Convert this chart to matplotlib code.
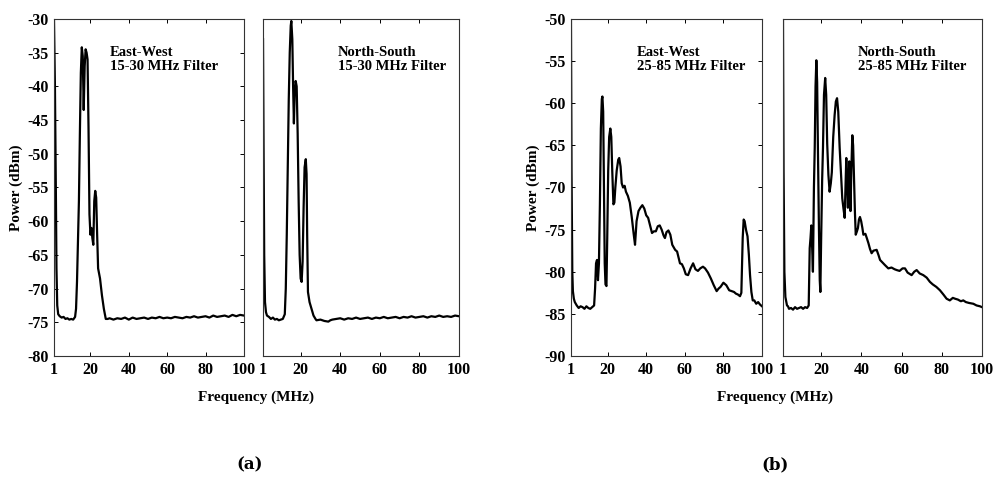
import matplotlib
matplotlib.use("Agg")
import matplotlib.pyplot as plt

plt.rcParams['font.family'] = ['Liberation Serif', 'DejaVu Serif']
plt.rcParams['font.weight'] = 'bold'
plt.rcParams['axes.unicode_minus'] = False

# ---- (a) 15-30 MHz filter ----
ew_a_f = [1, 1.5, 2, 2.3, 2.7, 3.2, 4, 5, 6, 7, 8, 9, 10, 11, 12, 12.5, 13, 13.5, 14,
          14.5, 15, 15.5, 16, 16.5, 17, 17.5, 18, 18.5, 19, 19.5, 20, 20.5, 21, 21.5,
          22, 22.5, 23, 23.5, 24, 25, 26, 27, 28, 29, 30, 32, 34, 36, 38, 40, 42, 44,
          46, 48, 50, 52, 54, 56, 58, 60, 62, 64, 66, 68, 70, 72, 74, 76, 78, 80, 82,
          84, 86, 88, 90, 92, 94, 96, 98, 100]
ew_a_p = [-30, -40, -56, -67, -72.5, -73.8, -74.1, -74.3, -74.2, -74.5, -74.4, -74.6,
          -74.5, -74.6, -74.2, -73, -69, -63, -57, -47, -38, -34.2, -35.5, -43.5, -37,
          -34.5, -35, -36, -46, -59, -62, -61, -62.5, -63.5, -57, -55.5, -56.5, -62, -67,
          -68.5, -71, -73, -74.5, -74.5, -74.4, -74.6, -74.4, -74.5, -74.3, -74.6, -74.3,
          -74.5, -74.4, -74.3, -74.5, -74.3, -74.4, -74.2, -74.4, -74.3, -74.4, -74.2,
          -74.3, -74.4, -74.2, -74.3, -74.1, -74.3, -74.2, -74.1, -74.3, -74.0, -74.2,
          -74.1, -74.0, -74.2, -73.9, -74.1, -73.9, -74.0]

ns_a_f = [1, 1.3, 1.6, 2, 2.5, 3, 4, 5, 6, 7, 8, 9, 10, 11, 12, 12.5, 13, 13.5, 14,
          14.5, 15, 15.3, 15.8, 16.2, 16.6, 17, 17.5, 18, 18.5, 19, 19.5, 20, 20.5, 21,
          21.5, 22, 22.6, 23, 23.3, 23.7, 24.5, 25.5, 26.5, 27.5, 28, 30, 32, 34, 35,
          36, 38, 40, 42, 44, 46, 48, 50, 52, 54, 56, 58, 60, 62, 64, 66, 68, 70, 72,
          74, 76, 78, 80, 82, 84, 86, 88, 90, 92, 94, 96, 98, 100]
ns_a_p = [-33, -50, -65, -72, -73.5, -74, -74.2, -74.5, -74.3, -74.6, -74.5, -74.7,
          -74.6, -74.5, -73.8, -70, -62, -52, -42, -35, -31, -30.3, -33, -40, -45.5, -41,
          -39.2, -40, -47, -57, -65, -68.5, -69, -66, -58, -52, -50.8, -53, -62, -70.5,
          -72, -73, -74, -74.5, -74.7, -74.6, -74.8, -74.9, -74.7, -74.6, -74.5, -74.4,
          -74.6, -74.4, -74.5, -74.3, -74.5, -74.4, -74.3, -74.5, -74.3, -74.4, -74.2,
          -74.4, -74.3, -74.2, -74.4, -74.2, -74.3, -74.1, -74.3, -74.2, -74.1, -74.3,
          -74.1, -74.2, -74.0, -74.2, -74.1, -74.2, -74.0, -74.1]

# ---- (b) 25-85 MHz filter ----
ew_b_f = [1, 1.3, 1.7, 2, 2.5, 3, 4, 5, 6, 7, 8, 9, 10, 11, 12, 13, 13.5, 14, 14.5, 15,
          15.5, 16, 16.5, 17, 17.3, 17.7, 18.1, 18.5, 18.9, 19.4, 19.8, 20.3, 20.8, 21.4,
          21.9, 22.4, 23, 23.5, 24, 24.7, 25.5, 26, 26.7, 27.3, 28, 28.8, 29.5, 30.5,
          31.5, 32.5, 33.5, 34.2, 35, 36, 37, 38, 39, 40, 41, 42, 43, 44, 45, 46, 47, 48,
          49, 49.7, 50.5, 51.5, 52.5, 53.5, 55, 56, 57.5, 58.5, 59.5, 60.5, 61.7, 63,
          64.3, 65.5, 66.8, 68, 69.4, 70.5, 72, 73.5, 75, 76.5, 77.5, 78.5, 80, 81.5, 83,
          84.3, 85.5, 86.5, 87.5, 88.6, 89.3, 90, 90.5, 91, 91.7, 92.5, 93.2, 93.8, 94.5,
          95.2, 96, 97, 98, 99, 100]
ew_b_p = [-50, -68, -80, -82.3, -83.2, -83.6, -84.0, -84.3, -84.1, -84.2, -84.4, -84.1,
          -84.3, -84.4, -84.2, -84.0, -82, -79, -78.6, -81, -79, -72, -63, -59.5, -59.2,
          -61, -70, -79, -81.5, -81.7, -76, -68, -64, -63, -64, -68, -72, -71.8, -70, -68,
          -66.7, -66.5, -67.5, -69.5, -70, -69.8, -70.5, -71, -71.8, -73.5, -75.5, -76.8,
          -74, -72.8, -72.4, -72.1, -72.5, -73.3, -73.6, -74.5, -75.4, -75.2, -75.2, -74.6,
          -74.5, -75, -75.7, -76, -75.3, -75.1, -75.6, -76.8, -77.4, -77.6, -79, -79.1,
          -79.6, -80.3, -80.4, -79.6, -79, -79.7, -79.9, -79.6, -79.4, -79.6, -80.1, -80.8,
          -81.6, -82.3, -82, -81.8, -81.3, -81.6, -82.2, -82.3, -82.4, -82.6, -82.7, -82.9,
          -82.5, -76, -73.8, -74, -75, -75.8, -78, -80.4, -82.4, -83.4, -83.4, -83.8,
          -83.6, -83.9, -84.1]

ns_b_f = [1, 1.3, 1.7, 2.2, 3, 3.5, 4, 5, 6, 7, 8, 9, 10, 11, 12, 13, 13.8, 14.3, 14.7,
          15.1, 15.5, 15.9, 16.4, 16.8, 17.2, 17.6, 18, 18.4, 18.9, 19.3, 19.6, 20, 20.5,
          20.9, 21.4, 22, 22.5, 23, 23.6, 24.2, 24.8, 25.3, 26, 26.7, 27.3, 27.9, 28.5,
          29.2, 29.9, 30.5, 31.1, 31.7, 32.1, 32.5, 32.9, 33.3, 33.7, 34, 34.3, 34.6, 35,
          35.5, 35.9, 36.3, 36.8, 37.2, 37.8, 38.3, 38.8, 39.3, 39.9, 40.5, 41, 42, 42.7,
          43.5, 44.3, 45.1, 46, 47.6, 48.5, 49.3, 50.5, 51.7, 53.4, 55, 56.5, 57.6, 59,
          60.5, 61.7, 63, 65, 66.3, 67.5, 69, 70.8, 72.5, 74.1, 75.5, 77.3, 79.1, 80.8,
          82.4, 84, 85.5, 86.6, 88, 89.5, 90.7, 92, 93.5, 95.7, 97.3, 99, 100]
ns_b_p = [-50, -68, -80, -83, -84, -84.1, -84.4, -84.3, -84.5, -84.2, -84.4, -84.3,
          -84.2, -84.4, -84.2, -84.3, -84, -77.2, -76, -74.5, -77, -80, -70, -65.3, -58,
          -54.9, -57.5, -65.7, -75, -81, -82.4, -76, -69, -65.3, -59, -57, -59, -64.8,
          -68.5, -70.5, -69.5, -68.2, -64, -61.4, -59.8, -59.4, -61, -65.3, -68.5, -71.3,
          -72.5, -73.6, -70, -66.5, -69, -72.4, -69, -66.9, -70, -72.8, -68, -63.8, -65,
          -68.5, -73, -75.6, -75.2, -74.8, -73.8, -73.5, -74, -74.8, -75.6, -75.5, -76,
          -76.6, -77.3, -77.8, -77.5, -77.4, -78, -78.6, -78.9, -79.2, -79.6, -79.5,
          -79.7, -79.8, -79.9, -79.6, -79.6, -80.1, -80.4, -80, -79.8, -80.2, -80.4,
          -80.7, -81.2, -81.5, -81.8, -82.2, -82.7, -83.2, -83.4, -83.1, -83.2, -83.3,
          -83.5, -83.4, -83.6, -83.7, -83.8, -84, -84.1, -84.2]

x_ticks = [1, 20, 40, 60, 80, 100]
labels = ['East-West\n15-30 MHz Filter', 'North-South\n15-30 MHz Filter',
          'East-West\n25-85 MHz Filter', 'North-South\n25-85 MHz Filter']

fig = plt.figure(figsize=(9.94, 4.82), dpi=100)

panels = [
    # rect, freq, power, ylim, show y labels, label x
    ([0.0543, 0.2614, 0.1911, 0.6992], ew_a_f, ew_a_p, (-80, -30), True, 0.295),
    ([0.2646, 0.2614, 0.1972, 0.6992], ns_a_f, ns_a_p, (-80, -30), False, 0.381),
    ([0.5744, 0.2614, 0.1922, 0.6992], ew_b_f, ew_b_p, (-90, -50), True, 0.344),
    ([0.7877, 0.2614, 0.2002, 0.6992], ns_b_f, ns_b_p, (-90, -50), False, 0.378),
]

for i, (rect, f, p, ylim, ylab, tx) in enumerate(panels):
    ax = fig.add_axes(rect)
    ax.plot(f, p, color='black', lw=1.6)
    ax.set_xlim(1, 100)
    ax.set_ylim(*ylim)
    ax.set_xticks(x_ticks)
    ax.set_yticks(range(ylim[0], ylim[1] + 1, 5))
    ax.tick_params(direction='in', length=3, width=0.7, labelsize=11.5, pad=4,
                   top=True, right=ylab, left=ylab, labelleft=ylab)
    for s in ax.spines.values():
        s.set_linewidth(0.8)
        s.set_color('#333333')
    ax.text(tx, 0.92, labels[i], transform=ax.transAxes, va='top', ha='left',
            fontsize=10.5, fontweight='bold', linespacing=1.1)
    if ylab:
        ax.set_ylabel('Power (dBm)', fontsize=11, fontweight='bold', labelpad=3)

fig.text(0.258, 1 - 397 / 482, 'Frequency (MHz)', ha='center', va='center',
         fontsize=11, fontweight='bold')
fig.text(0.780, 1 - 397 / 482, 'Frequency (MHz)', ha='center', va='center',
         fontsize=11, fontweight='bold')
fig.text(0.2515, 1 - 465 / 482, '(a)', ha='center', va='center', fontsize=12,
         fontweight='bold', family='DejaVu Serif')
fig.text(0.7797, 1 - 465 / 482, '(b)', ha='center', va='center', fontsize=12,
         fontweight='bold', family='DejaVu Serif')

fig.savefig('out.png', dpi=100)
